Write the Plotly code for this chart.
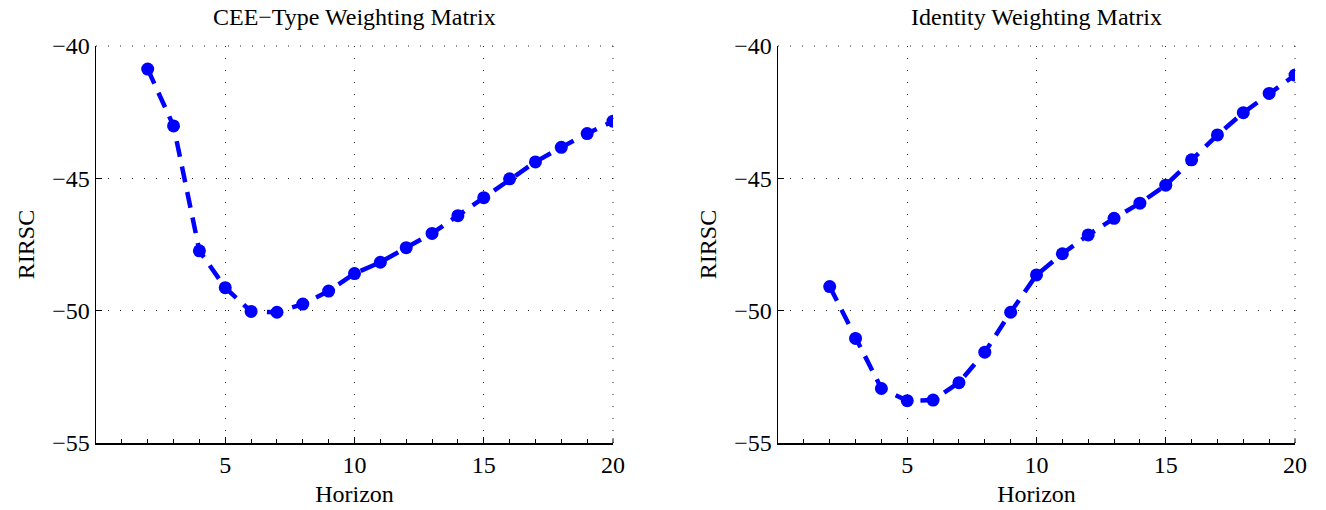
import plotly.graph_objects as go

horizon = list(range(2, 21))
cee_rirsc = [-40.87, -43.02, -47.74, -49.13, -50.03, -50.06, -49.75, -49.26, -48.60,
             -48.17, -47.62, -47.08, -46.41, -45.73, -45.02, -44.38, -43.83, -43.31, -42.84]
identity_rirsc = [-49.09, -51.05, -52.94, -53.40, -53.38, -52.72, -51.57, -50.06, -48.65,
                  -47.85, -47.14, -46.51, -45.94, -45.26, -44.30, -43.36, -42.52, -41.79, -41.10]
titles = ["CEE\u2212Type Weighting Matrix", "Identity Weighting Matrix"]
x_ticks = [5, 10, 15, 20]
y_ticks = [-55, -50, -45, -40]

W, H = 1326, 510
FONT = "Liberation Serif"
FS = 24
BLUE = "#0000FF"
GRID = "#222222"
GDASH = "1px,11px"

fig = go.Figure()
for i, ys in enumerate([cee_rirsc, identity_rirsc]):
    sfx = "" if i == 0 else "2"
    fig.add_trace(go.Scatter(
        x=horizon, y=ys, mode="lines+markers",
        xaxis="x" + sfx, yaxis="y" + sfx,
        line=dict(color=BLUE, width=4.5, dash="16px,10px"),
        marker=dict(color=BLUE, size=13),
        showlegend=False,
    ))

px_x = [(96, 613), (778, 1295)]
y_dom = [1 - 443 / H, 1 - 46 / H]

axis_common = dict(
    showline=True, linecolor="black", linewidth=1.5,
    ticks="inside", tickcolor="black", ticklen=6, tickwidth=1,
    showgrid=True, gridcolor=GRID, gridwidth=1, griddash=GDASH,
    zeroline=False, mirror=False, automargin=False,
    tickfont=dict(family=FONT, size=FS, color="black"),
    title_font=dict(family=FONT, size=FS, color="black"),
)

layout = dict(
    width=W, height=H,
    margin=dict(l=0, r=0, t=0, b=0),
    paper_bgcolor="white", plot_bgcolor="white",
    font=dict(family=FONT, size=FS, color="black"),
    annotations=[], shapes=[],
)

for i in range(2):
    sfx = "" if i == 0 else "2"
    x0, x1 = px_x[i]
    layout["xaxis" + sfx] = dict(
        axis_common,
        domain=[x0 / W, x1 / W], range=[0, 20],
        tickvals=x_ticks, ticktext=[str(v) for v in x_ticks],
        anchor="y" + sfx,
        title=dict(text="Horizon", standoff=8),
        minor=dict(ticks="inside", ticklen=4, tickcolor="black", dtick=1, tick0=0, showgrid=False),
    )
    layout["yaxis" + sfx] = dict(
        axis_common,
        domain=y_dom, range=[-55, -40],
        tickvals=y_ticks,
        anchor="x" + sfx,
        title=dict(text="RIRSC", standoff=11),
    )
    layout["annotations"].append(dict(
        text=titles[i], xref="paper", yref="paper",
        x=(x0 + x1) / 2 / W, y=1 - 17 / H, xanchor="center", yanchor="middle",
        showarrow=False, font=dict(family=FONT, size=FS, color="black"),
    ))
    # dotted grid lines on the top and right boundaries (hidden by plotly at edges)
    layout["shapes"].append(dict(
        type="line", xref=f"x{sfx} domain", yref=f"y{sfx} domain",
        x0=0, x1=1, y0=1, y1=1, line=dict(color=GRID, width=1, dash=GDASH), layer="below"))
    layout["shapes"].append(dict(
        type="line", xref=f"x{sfx} domain", yref=f"y{sfx} domain",
        x0=1, x1=1, y0=0, y1=1, line=dict(color=GRID, width=1, dash=GDASH), layer="below"))
    layout["shapes"].append(dict(
        type="line", xref=f"x{sfx} domain", yref=f"y{sfx} domain",
        x0=1, x1=1, y0=0, y1=0.012, line=dict(color="black", width=1), layer="below"))

fig.update_layout(**layout)
fig.write_html("out.html", config={"displayModeBar": False, "staticPlot": True})

# remove the default page margin so the figure sits at the window origin
with open("out.html", "r", encoding="utf-8") as f:
    html = f.read()
html = html.replace("<head>", "<head><style>html,body{margin:0;padding:0;overflow:hidden;}</style>", 1)
with open("out.html", "w", encoding="utf-8") as f:
    f.write(html)
